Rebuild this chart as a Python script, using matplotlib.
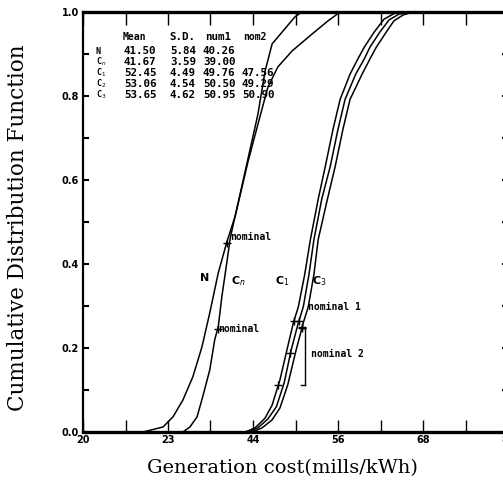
import numpy as np
import matplotlib
matplotlib.use("Agg")
import matplotlib.pyplot as plt

# ---- data ----
N_x  = [27.8, 28.5, 31.3, 32.7, 34.1, 35.5, 36.8, 37.9, 39.1, 40.3, 41.5, 43.3, 44.7, 46.1, 47.5, 49.5, 52.3, 54.6, 56.3]
N_y  = [0.0, 0.0, 0.012, 0.036, 0.076, 0.131, 0.203, 0.284, 0.379, 0.452, 0.515, 0.644, 0.733, 0.821, 0.869, 0.907, 0.947, 0.979, 1.0]

Cn_x = [33.5, 34.1, 35.1, 36.1, 36.9, 37.9, 38.6, 39.1, 39.6, 40.3, 40.8, 42.9, 44.7, 45.7, 46.7, 48.1, 49.9, 50.9]
Cn_y = [0.0, 0.0, 0.012, 0.036, 0.084, 0.148, 0.220, 0.251, 0.322, 0.403, 0.463, 0.621, 0.757, 0.859, 0.924, 0.952, 0.988, 1.0]

C1_x = [42.3, 42.9, 44.3, 45.7, 46.7, 47.8, 48.8, 49.7, 50.4, 51.3, 52.1, 53.2, 54.2, 55.3, 56.3, 57.7, 58.8, 59.7, 61.1, 62.5, 64.1, 66.6]
C1_y = [0.0, 0.0, 0.010, 0.033, 0.064, 0.124, 0.196, 0.260, 0.298, 0.375, 0.458, 0.554, 0.632, 0.721, 0.792, 0.852, 0.888, 0.916, 0.952, 0.983, 0.998, 1.0]

C2_x = [42.7, 43.3, 44.7, 46.1, 47.3, 48.4, 49.4, 50.4, 51.1, 51.9, 52.6, 53.7, 54.9, 56.0, 57.0, 58.5, 59.7, 60.5, 61.9, 63.2, 64.6, 66.6]
C2_y = [0.0, 0.0, 0.010, 0.031, 0.060, 0.117, 0.196, 0.260, 0.298, 0.375, 0.458, 0.554, 0.632, 0.721, 0.792, 0.852, 0.888, 0.916, 0.952, 0.981, 0.995, 1.0]

C3_x = [43.2, 43.9, 45.3, 46.7, 47.8, 48.9, 50.1, 51.1, 51.8, 52.6, 53.2, 54.5, 55.6, 56.7, 57.7, 59.4, 60.5, 61.4, 62.8, 63.9, 65.2, 66.6]
C3_y = [0.0, 0.0, 0.010, 0.029, 0.057, 0.112, 0.196, 0.260, 0.298, 0.375, 0.458, 0.554, 0.632, 0.721, 0.792, 0.852, 0.888, 0.916, 0.952, 0.979, 0.993, 1.0]

names = ["N", "C$_n$", "C$_1$", "C$_2$", "C$_3$"]
means = ["41.50", "41.67", "52.45", "53.06", "53.65"]
sds   = ["5.84", "3.59", "4.49", "4.54", "4.62"]
num1  = [40.26, 39.00, 49.76, 50.50, 50.95]
nom2  = [None, None, 47.56, 49.29, 50.90]

xtick_pos    = [20, 32, 44, 56, 68, 80]
xtick_labels = ["20", "23", "44", "56", "68", "80"]

# ---- figure ----
W, H = 503, 488
fig = plt.figure(figsize=(W / 100, H / 100), dpi=100)

def px2fig(x0, y0, x1, y1):
    return [x0 / W, 1 - y1 / H, (x1 - x0) / W, (y1 - y0) / H]

ax = fig.add_axes(px2fig(83, 12, 508, 432))
ax.set_xlim(20, 80)
ax.set_ylim(0, 1.0)

curves = [(N_x, N_y), (Cn_x, Cn_y), (C1_x, C1_y), (C2_x, C2_y), (C3_x, C3_y)]
for cx, cy in curves:
    ax.plot(cx, cy, color="black", lw=1.1, solid_capstyle="round", solid_joinstyle="round")

# nominal markers placed on the curves
for (cx, cy), v in zip(curves, num1):
    ax.plot([v], [np.interp(v, cx, cy)], marker="+", color="black", ms=6, mew=1.0)
for (cx, cy), v in zip(curves, nom2):
    if v is not None:
        ax.plot([v], [np.interp(v, cx, cy)], marker="+", color="black", ms=6, mew=1.0)

mono = dict(family="DejaVu Sans Mono", fontweight="bold", fontsize=7.8, color="black")
small = dict(family="DejaVu Sans Mono", fontweight="bold", fontsize=7.0, color="black")
tiny = dict(family="DejaVu Sans Mono", fontweight="bold", fontsize=6.0, color="black")

# nominal texts
ax.text(40.8, 0.465, "nominal", va="center", ha="left", **small)
ax.text(39.1, np.interp(num1[1], Cn_x, Cn_y), "nominal", va="center", ha="left", **small)
ax.text(51.8, 0.298, "nominal 1", va="center", ha="left", **small)
ax.text(52.2, 0.185, "nominal 2", va="center", ha="left", **small)

# bracket for nominal 2
yb0 = np.interp(nom2[2], C1_x, C1_y)
yb1 = np.interp(nom2[4], C3_x, C3_y)
ax.plot([51.3, 51.3], [yb0, yb1], color="black", lw=1.0)
ax.plot([50.8, 51.3], [yb1, yb1], color="black", lw=1.0)
ax.plot([50.8, 51.3], [yb0, yb0], color="black", lw=1.0)

# curve labels
lab = dict(family="DejaVu Sans", fontweight="bold", fontsize=8, color="black")
ax.text(37.1, 0.367, "N", ha="center", va="center", **lab)
ax.text(41.9, 0.36, "C$_n$", ha="center", va="center", **lab)
ax.text(48.2, 0.36, "C$_1$", ha="center", va="center", **lab)
ax.text(53.3, 0.36, "C$_3$", ha="center", va="center", **lab)

# table
def pxx(px):
    return 20 + (px - 83) * 12 / 85
def pxy(py):
    return (432 - py) / 419

hdr_y = pxy(38)
ax.text(pxx(123), hdr_y, "Mean", ha="left", va="center", **small)
ax.text(pxx(169), hdr_y, "S.D.", ha="left", va="center", **mono)
ax.text(pxx(205), hdr_y, "num1", ha="left", va="center", **mono)
ax.text(pxx(243), hdr_y, "nom2", ha="left", va="center", **small)
rows_py = [52, 63, 74, 85, 96]
for i, py in enumerate(rows_py):
    yy = pxy(py)
    ax.text(pxx(96), yy, names[i], ha="left", va="center", **tiny)
    ax.text(pxx(124), yy, means[i], ha="left", va="center", **mono)
    ax.text(pxx(170), yy, sds[i], ha="left", va="center", **mono)
    ax.text(pxx(203), yy, f"{num1[i]:.2f}", ha="left", va="center", **mono)
    if nom2[i] is not None:
        ax.text(pxx(242), yy, f"{nom2[i]:.2f}", ha="left", va="center", **mono)

# ticks
ax.set_xticks(np.arange(20, 81, 6))
ax.set_xticklabels([xtick_labels[xtick_pos.index(t)] if t in xtick_pos else "" for t in range(20, 81, 6)])
ax.set_yticks(np.arange(0, 1.01, 0.1))
ax.set_yticklabels([f"{t:.1f}" if round(t * 10) % 2 == 0 else "" for t in np.arange(0, 1.01, 0.1)])
ax.tick_params(axis="x", which="both", direction="in", top=True, bottom=True,
               length=9, width=1.0, pad=2, labelsize=7)
ax.tick_params(axis="y", which="both", direction="in", left=True, right=True,
               length=4, width=1.5, pad=3, labelsize=7)
for lbl in ax.get_xticklabels() + ax.get_yticklabels():
    lbl.set_fontweight("bold")

for s in ["left", "right"]:
    ax.spines[s].set_linewidth(1.6)
for s in ["top", "bottom"]:
    ax.spines[s].set_linewidth(2.4)

fig.text(282 / W, 1 - 468 / H, "Generation cost(mills/kWh)", ha="center", va="center",
         family="DejaVu Serif", fontsize=14)
fig.text(18 / W, 1 - 228 / H, "Cumulative Distribution Function", ha="center", va="center",
         rotation=90, family="DejaVu Serif", fontsize=15.5)

fig.savefig("out.png", dpi=100)
